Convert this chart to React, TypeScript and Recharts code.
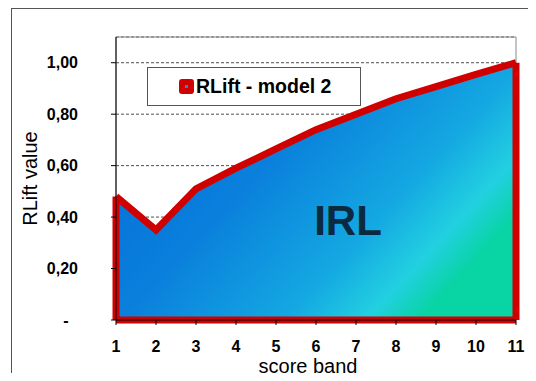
import React from 'react';
import {
  Area,
  ComposedChart,
  CartesianGrid,
  ReferenceArea,
  ReferenceDot,
  ReferenceLine,
  XAxis,
  YAxis,
} from 'recharts';

// score bands and lift values
const bands = [1, 2, 3, 4, 5, 6, 7, 8, 9, 10, 11];
const rlift = [0.48, 0.35, 0.51, 0.59, 0.665, 0.74, 0.8, 0.86, 0.907, 0.955, 1.0];
const yTicks = [0, 0.2, 0.4, 0.6, 0.8, 1.0];
const seriesName = 'RLift - model 2';

const data = bands.map((b, i) => ({ band: b, rlift: rlift[i] }));

const RED = '#d00000';
const FONT = 'Arial, "Liberation Sans", sans-serif';

const YTick = (props: any) => {
  const { x, y, payload } = props;
  const v = payload.value as number;
  if (v === 0) {
    return (
      <text x={x - 12} y={y} dy="0.355em" textAnchor="middle" fontWeight="bold" fontSize={16} fill="#000" fontFamily={FONT}>
        -
      </text>
    );
  }
  return (
    <text x={x} y={y} dy="0.355em" textAnchor="end" fontWeight="bold" fontSize={16} fill="#000" fontFamily={FONT}>
      {v.toFixed(2).replace('.', ',')}
    </text>
  );
};

// legend drawn as a plain box over the plot, like the Excel one
const LegendBox = () => (
  <div
    style={{
      position: 'absolute',
      left: 147,
      top: 67,
      width: 212,
      height: 37,
      border: '1px solid #555',
      background: '#fff',
      display: 'flex',
      alignItems: 'center',
      fontFamily: FONT,
    }}
  >
    <div
      style={{
        width: 15,
        height: 15,
        marginLeft: 31,
        marginRight: 2,
        borderRadius: 3,
        background: RED,
        display: 'flex',
        alignItems: 'center',
        justifyContent: 'center',
      }}
    >
      <div style={{ width: 3, height: 3, background: '#1a8fe0' }} />
    </div>
    <span style={{ fontWeight: 'bold', fontSize: 19.5, color: '#000' }}>{seriesName}</span>
  </div>
);

export default function App() {
  const first = data[0];
  const last = data[data.length - 1];
  return (
    <div style={{ position: 'relative', width: 536, height: 381, margin: -8, overflow: 'hidden', background: '#fff' }}>
      <div
        style={{
          position: 'absolute',
          left: 11,
          top: 8,
          width: 600,
          height: 400,
          border: '1px solid #555',
        }}
      />
      <div style={{ position: 'absolute', left: 0, top: 0 }}>
        <ComposedChart
          width={536}
          height={381}
          data={data}
          margin={{ top: 37, right: 20, bottom: 6, left: 16 }}
          style={{ fontFamily: FONT }}
        >
          <defs>
            <linearGradient id="irlFill" x1="0" y1="0" x2="1" y2="0.6">
              <stop offset="0" stopColor="#0468d6" />
              <stop offset="0.45" stopColor="#0a80dc" />
              <stop offset="0.75" stopColor="#14a8e2" />
              <stop offset="0.9" stopColor="#22d0e0" />
              <stop offset="1" stopColor="#08d4a4" />
            </linearGradient>
          </defs>
          <CartesianGrid vertical={false} stroke="#000" strokeDasharray="3 2" strokeWidth={0.7} />
          <ReferenceArea x1={1} x2={11} y1={0} y2={1.1} fill="none" stroke="#888" strokeWidth={1} />
          <XAxis
            dataKey="band"
            type="number"
            domain={[1, 11]}
            ticks={bands}
            interval={0}
            height={55}
            tickSize={5}
            tickMargin={16}
            axisLine={{ stroke: '#000' }}
            tickLine={{ stroke: '#000' }}
            tick={{ fill: '#000', fontSize: 16, fontWeight: 'bold' }}
            label={{ value: 'score band', position: 'insideBottom', offset: 2, dx: -8, fill: '#000', fontSize: 20 }}
          />
          <YAxis
            domain={[0, 1.1]}
            ticks={yTicks}
            width={100}
            tickSize={5}
            tickMargin={33}
            axisLine={{ stroke: '#000' }}
            tickLine={{ stroke: '#000' }}
            tick={<YTick />}
            label={{
              value: 'RLift value',
              angle: -90,
              position: 'insideLeft',
              offset: 14,
              fill: '#000',
              fontSize: 20,
              style: { textAnchor: 'middle' },
            }}
          />
          <Area
            type="linear"
            dataKey="rlift"
            name={seriesName}
            stroke={RED}
            strokeWidth={7}
            strokeLinejoin="miter"
            fill="url(#irlFill)"
            fillOpacity={1}
            isAnimationActive={false}
          />
          <ReferenceLine
            segment={[{ x: first.band, y: 0 }, { x: first.band, y: first.rlift }]}
            stroke={RED}
            strokeWidth={7}
          />
          <ReferenceLine
            segment={[{ x: last.band, y: 0 }, { x: last.band, y: last.rlift }]}
            stroke={RED}
            strokeWidth={7}
          />
          <ReferenceLine
            segment={[{ x: first.band, y: 0 }, { x: last.band, y: 0 }]}
            stroke={RED}
            strokeWidth={7}
          />
          <ReferenceDot
            x={6.8}
            y={0.39}
            r={0}
            stroke="none"
            fill="none"
            label={{ value: 'IRL', position: 'center', fill: '#0a2a40', fontSize: 42, fontWeight: 'bold' }}
          />
        </ComposedChart>
      </div>
      <LegendBox />
    </div>
  );
}
